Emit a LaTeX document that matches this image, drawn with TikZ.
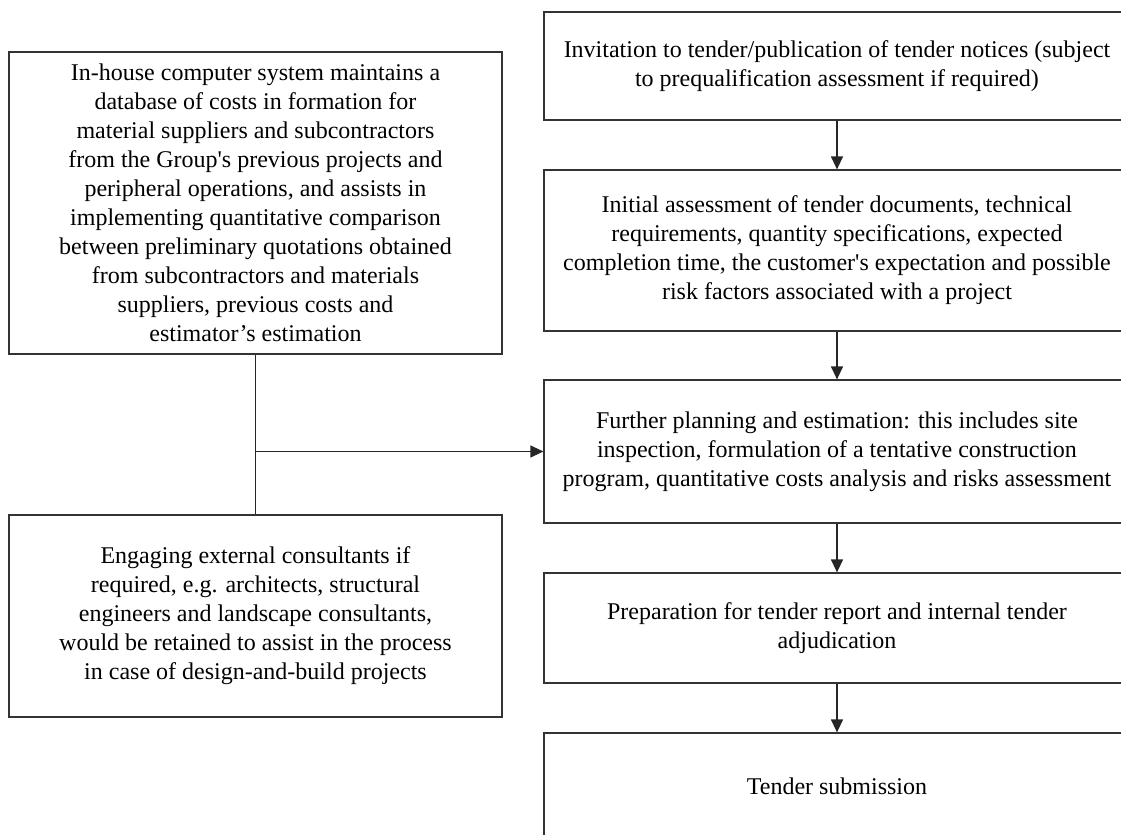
\documentclass[tikz,border=0pt]{standalone}
\usepackage{fontspec}
\setmainfont{Liberation Serif}
\usetikzlibrary{arrows.meta, positioning}

\begin{document}
\begin{tikzpicture}[x=0.5pt, y=-0.5pt, >={Triangle[length=6.5pt, width=6pt]},
  box/.style={draw=black!80, line width=0.6pt, align=center, inner sep=0pt,
              font=\fontsize{12}{14.5}\selectfont},
  flow/.style={->, draw=black!85, line width=0.6pt}]
  \useasboundingbox (0,0) rectangle (1121,835);
  \clip (0,0) rectangle (1121,835);
  % right-hand column, boxes run past the page edge
  \node[box, minimum width=293pt, minimum height=54pt] (inv) at (837,66)
    {Invitation to tender/publication of tender notices (subject\\
     to prequalification assessment if required)};
  \node[box, minimum width=293pt, minimum height=80.5pt] (ini) at (837,250.5)
    {Initial assessment of tender documents, technical\\
     requirements, quantity specifications, expected\\
     completion time, the customer\textquotesingle s expectation and possible\\
     risk factors associated with a project};
  \node[box, minimum width=293pt, minimum height=71.5pt] (fur) at (837,451.5)
    {Further planning and estimation: this includes site\\
     inspection, formulation of a tentative construction\\
     program, quantitative costs analysis and risks assessment};
  \node[box, minimum width=293pt, minimum height=55pt] (prep) at (837,628)
    {Preparation for tender report and internal tender\\
     adjudication};
  \node[box, minimum width=293pt, minimum height=53.5pt] (sub) at (837,786.5)
    {Tender submission};
  % left-hand column
  \node[box, minimum width=246.5pt, minimum height=151pt] (sys) at (255.5,203)
    {In-house computer system maintains a\\
     database of costs in formation for\\
     material suppliers and subcontractors\\
     from the Group\textquotesingle s previous projects and\\
     peripheral operations, and assists in\\
     implementing quantitative comparison\\
     between preliminary quotations obtained\\
     from subcontractors and materials\\
     suppliers, previous costs and\\
     estimator’s estimation};
  \node[box, minimum width=246.5pt, minimum height=101pt] (ext) at (255.5,616)
    {Engaging external consultants if\\
     required, e.g. architects, structural\\
     engineers and landscape consultants,\\
     would be retained to assist in the process\\
     in case of design-and-build projects};
  % connectors
  \draw[flow] (inv) -- (ini);
  \draw[flow] (ini) -- (fur);
  \draw[flow] (fur) -- (prep);
  \draw[flow] (prep) -- (sub);
  \draw[draw=black!85, line width=0.6pt] (sys) -- (ext);
  \coordinate (join) at (sys.south |- fur.west);
  \draw[flow] (join) -- (fur.west);
\end{tikzpicture}
\end{document}
